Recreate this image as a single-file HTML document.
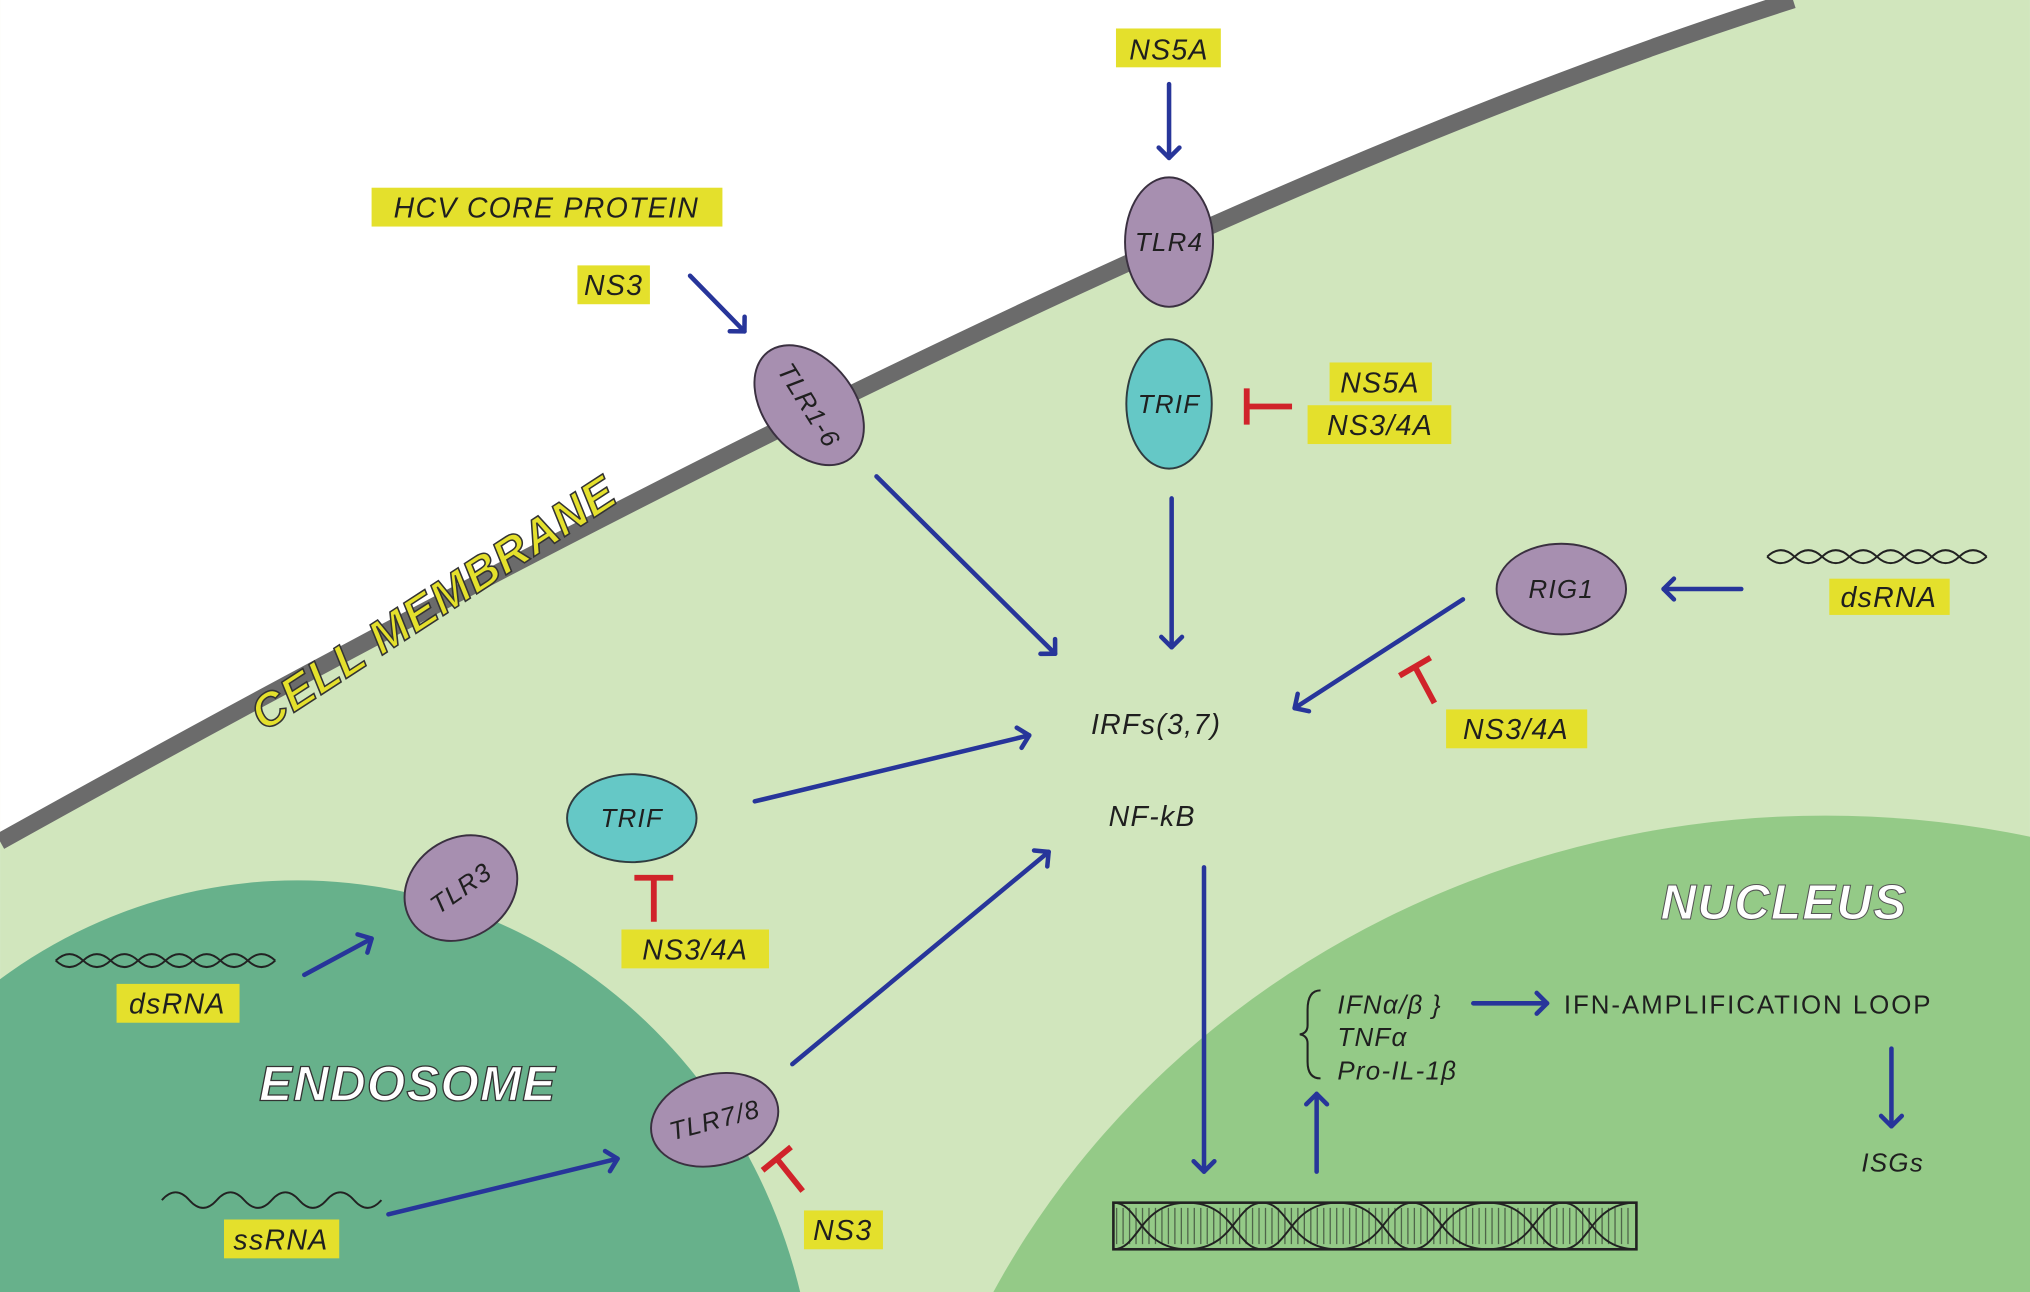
<!DOCTYPE html>
<html><head><meta charset="utf-8"><style>
html,body{margin:0;padding:0;background:#fff;overflow:hidden;width:2030px;height:1292px}
svg{display:block}
text{font-family:"Liberation Sans",sans-serif;font-style:italic;fill:#1f1f1f}
.lb{font-size:22px;text-anchor:middle;letter-spacing:1px}
.y{fill:#e4e02c}
.ar{stroke:#27359a;stroke-width:3.5;fill:none;stroke-linecap:round;stroke-linejoin:round}
.in{stroke:#d0232a;stroke-width:4.5;fill:none}
.pr{fill:#a78fb0;stroke:#3a3040;stroke-width:1.5}
.tf{fill:#65c8c6;stroke:#2f3c40;stroke-width:1.5}
.dna{stroke:#222;stroke-width:1.5;fill:none}
</style></head><body>
<svg width="2030" height="1292" viewBox="0 0 1568 998" xmlns="http://www.w3.org/2000/svg">
<defs>
<marker id="a" markerWidth="20" markerHeight="20" refX="12" refY="10" orient="auto" markerUnits="userSpaceOnUse">
<path d="M4,2 L12,10 L4,18" stroke="#27359a" stroke-width="3.5" fill="none" stroke-linecap="round" stroke-linejoin="round"/>
</marker>
</defs>
<rect width="1568" height="998" fill="#d1e6bd"/>
<path d="M0,0 L1385,0 Q880,160 0,650 Z" fill="#fff"/>
<path d="M0,650 Q880,160 1385,0" stroke="#6b6b6b" stroke-width="13" fill="none"/>
<ellipse cx="230" cy="1100" rx="400" ry="420" fill="#67b18b"/>
<ellipse cx="1410" cy="1300" rx="720" ry="670" fill="#94ca87"/>

<text x="335" y="478" transform="rotate(-33 335 466)" text-anchor="middle" style="font-size:36px;font-weight:bold;fill:#e4e02c;stroke:#333;stroke-width:1.2;letter-spacing:1px">CELL MEMBRANE</text>
<text x="315" y="850" text-anchor="middle" style="font-size:38px;font-weight:bold;fill:#fff;stroke:#333;stroke-width:1;letter-spacing:1px">ENDOSOME</text>
<text x="1378" y="710" text-anchor="middle" style="font-size:38px;font-weight:bold;fill:#fff;stroke:#555;stroke-width:0.8;letter-spacing:1px">NUCLEUS</text>

<rect class="y" x="862" y="22" width="81" height="30"/><text class="lb" x="903" y="46">NS5A</text>
<rect class="y" x="287" y="145" width="271" height="30"/><text class="lb" x="422" y="168">HCV CORE PROTEIN</text>
<rect class="y" x="446" y="205" width="56" height="30"/><text class="lb" x="474" y="228">NS3</text>
<rect class="y" x="1027" y="280" width="79" height="30"/><text class="lb" x="1066" y="303">NS5A</text>
<rect class="y" x="1010" y="313" width="111" height="30"/><text class="lb" x="1066" y="336">NS3/4A</text>
<rect class="y" x="1413" y="447" width="93" height="28"/><text class="lb" x="1459" y="469">dsRNA</text>
<rect class="y" x="1117" y="548" width="109" height="30"/><text class="lb" x="1171" y="571">NS3/4A</text>
<rect class="y" x="480" y="718" width="114" height="30"/><text class="lb" x="537" y="741">NS3/4A</text>
<rect class="y" x="90" y="760" width="95" height="30"/><text class="lb" x="137" y="783">dsRNA</text>
<rect class="y" x="621" y="935" width="61" height="30"/><text class="lb" x="651" y="958">NS3</text>
<rect class="y" x="173" y="942" width="89" height="30"/><text class="lb" x="217" y="965">ssRNA</text>

<ellipse class="pr" cx="903" cy="187" rx="34" ry="50"/><text class="lb" x="903" y="194" style="font-size:20px">TLR4</text>
<ellipse class="tf" cx="903" cy="312" rx="33" ry="50"/><text class="lb" x="903" y="319" style="font-size:20px">TRIF</text>
<g transform="rotate(-38 625 313)"><ellipse class="pr" cx="625" cy="313" rx="35" ry="52"/></g>
<text class="lb" x="625" y="320" transform="rotate(58 625 313)" style="font-size:20px">TLR1-6</text>
<ellipse class="pr" cx="1206" cy="455" rx="50" ry="35"/><text class="lb" x="1206" y="462" style="font-size:20px">RIG1</text>
<ellipse class="tf" cx="488" cy="632" rx="50" ry="34"/><text class="lb" x="488" y="639" style="font-size:20px">TRIF</text>
<g transform="rotate(-35 356 686)"><ellipse class="pr" cx="356" cy="686" rx="46" ry="38"/><text class="lb" x="356" y="693" style="font-size:20px">TLR3</text></g>
<g transform="rotate(-15 552 865)"><ellipse class="pr" cx="552" cy="865" rx="50" ry="35"/><text class="lb" x="552" y="872" style="font-size:20px">TLR7/8</text></g>

<text class="lb" x="893" y="567" style="font-size:22px">IRFs(3,7)</text>
<text class="lb" x="890" y="638" style="font-size:22px">NF-kB</text>

<line class="ar" x1="903" y1="65" x2="903" y2="122" marker-end="url(#a)"/>
<line class="ar" x1="905" y1="385" x2="905" y2="500" marker-end="url(#a)"/>
<line class="ar" x1="533" y1="213" x2="575" y2="256" marker-end="url(#a)"/>
<line class="ar" x1="677" y1="368" x2="815" y2="505" marker-end="url(#a)"/>
<line class="ar" x1="1345" y1="455" x2="1285" y2="455" marker-end="url(#a)"/>
<line class="ar" x1="1130" y1="463" x2="1000" y2="547" marker-end="url(#a)"/>
<line class="ar" x1="583" y1="619" x2="795" y2="568" marker-end="url(#a)"/>
<line class="ar" x1="235" y1="753" x2="287" y2="725" marker-end="url(#a)"/>
<line class="ar" x1="612" y1="822" x2="810" y2="658" marker-end="url(#a)"/>
<line class="ar" x1="300" y1="938" x2="477" y2="895" marker-end="url(#a)"/>
<line class="ar" x1="930" y1="670" x2="930" y2="905" marker-end="url(#a)"/>
<line class="ar" x1="1017" y1="905" x2="1017" y2="845" marker-end="url(#a)"/>
<line class="ar" x1="1138" y1="775" x2="1195" y2="775" marker-end="url(#a)"/>
<line class="ar" x1="1461" y1="810" x2="1461" y2="870" marker-end="url(#a)"/>

<path class="in" d="M998,314 H963 M963,300 V328"/>
<path class="in" d="M1108,543 L1093,515 M1081,522 L1105,508"/>
<path class="in" d="M505,712 V678 M490,678 H520"/>
<path class="in" d="M620,920 L600,895 M589,904 L611,886"/>

<path d="M1020,765 Q1010,765 1010,780 L1010,792 Q1010,798 1004,799 Q1010,800 1010,806 L1010,820 Q1010,833 1020,833" stroke="#222" stroke-width="1.6" fill="none"/>
<text x="1033" y="783" style="font-size:20px;letter-spacing:1px">IFNα/β }</text>
<text x="1033" y="808" style="font-size:20px;letter-spacing:1px">TNFα</text>
<text x="1033" y="834" style="font-size:20px;letter-spacing:1px">Pro-IL-1β</text>
<text x="1208" y="783" style="font-size:20px;font-style:normal;letter-spacing:1.5px">IFN-AMPLIFICATION LOOP</text>
<text class="lb" x="1462" y="905" style="font-size:20px">ISGs</text>

<rect x="860" y="929" width="404" height="36" fill="none" stroke="#222" stroke-width="2"/>
<path class="dna" d="M860,929 C880,929 880,965 917,965 C954,965 954,929 975,929 C996,929 996,965 1033,965 C1070,965 1070,929 1091,929 C1112,929 1112,965 1149,965 C1186,965 1186,929 1207,929 C1228,929 1228,965 1264,965"/>
<path class="dna" d="M860,965 C880,965 880,929 917,929 C954,929 954,965 975,965 C996,965 996,929 1033,929 C1070,929 1070,965 1091,965 C1112,965 1112,929 1149,929 C1186,929 1186,965 1207,965 C1228,965 1228,929 1264,929"/>
<path d="M862,947 H1262" stroke="#222" stroke-width="28" stroke-dasharray="1 4" fill="none" opacity="0.6"/>

<path class="dna" d="M1365,430 q10.6,-10 21.2,0 t21.2,0 t21.2,0 t21.2,0 t21.2,0 t21.2,0 t21.2,0 t21.2,0"/>
<path class="dna" d="M1365,430 q10.6,10 21.2,0 t21.2,0 t21.2,0 t21.2,0 t21.2,0 t21.2,0 t21.2,0 t21.2,0"/>
<path class="dna" d="M43,742 q10.6,-10 21.2,0 t21.2,0 t21.2,0 t21.2,0 t21.2,0 t21.2,0 t21.2,0 t21.2,0"/>
<path class="dna" d="M43,742 q10.6,10 21.2,0 t21.2,0 t21.2,0 t21.2,0 t21.2,0 t21.2,0 t21.2,0 t21.2,0"/>
<path class="dna" d="M125,927 q10.6,-12 21.2,0 t21.2,0 t21.2,0 t21.2,0 t21.2,0 t21.2,0 t21.2,0 t21.2,0"/>
</svg>
</body></html>
